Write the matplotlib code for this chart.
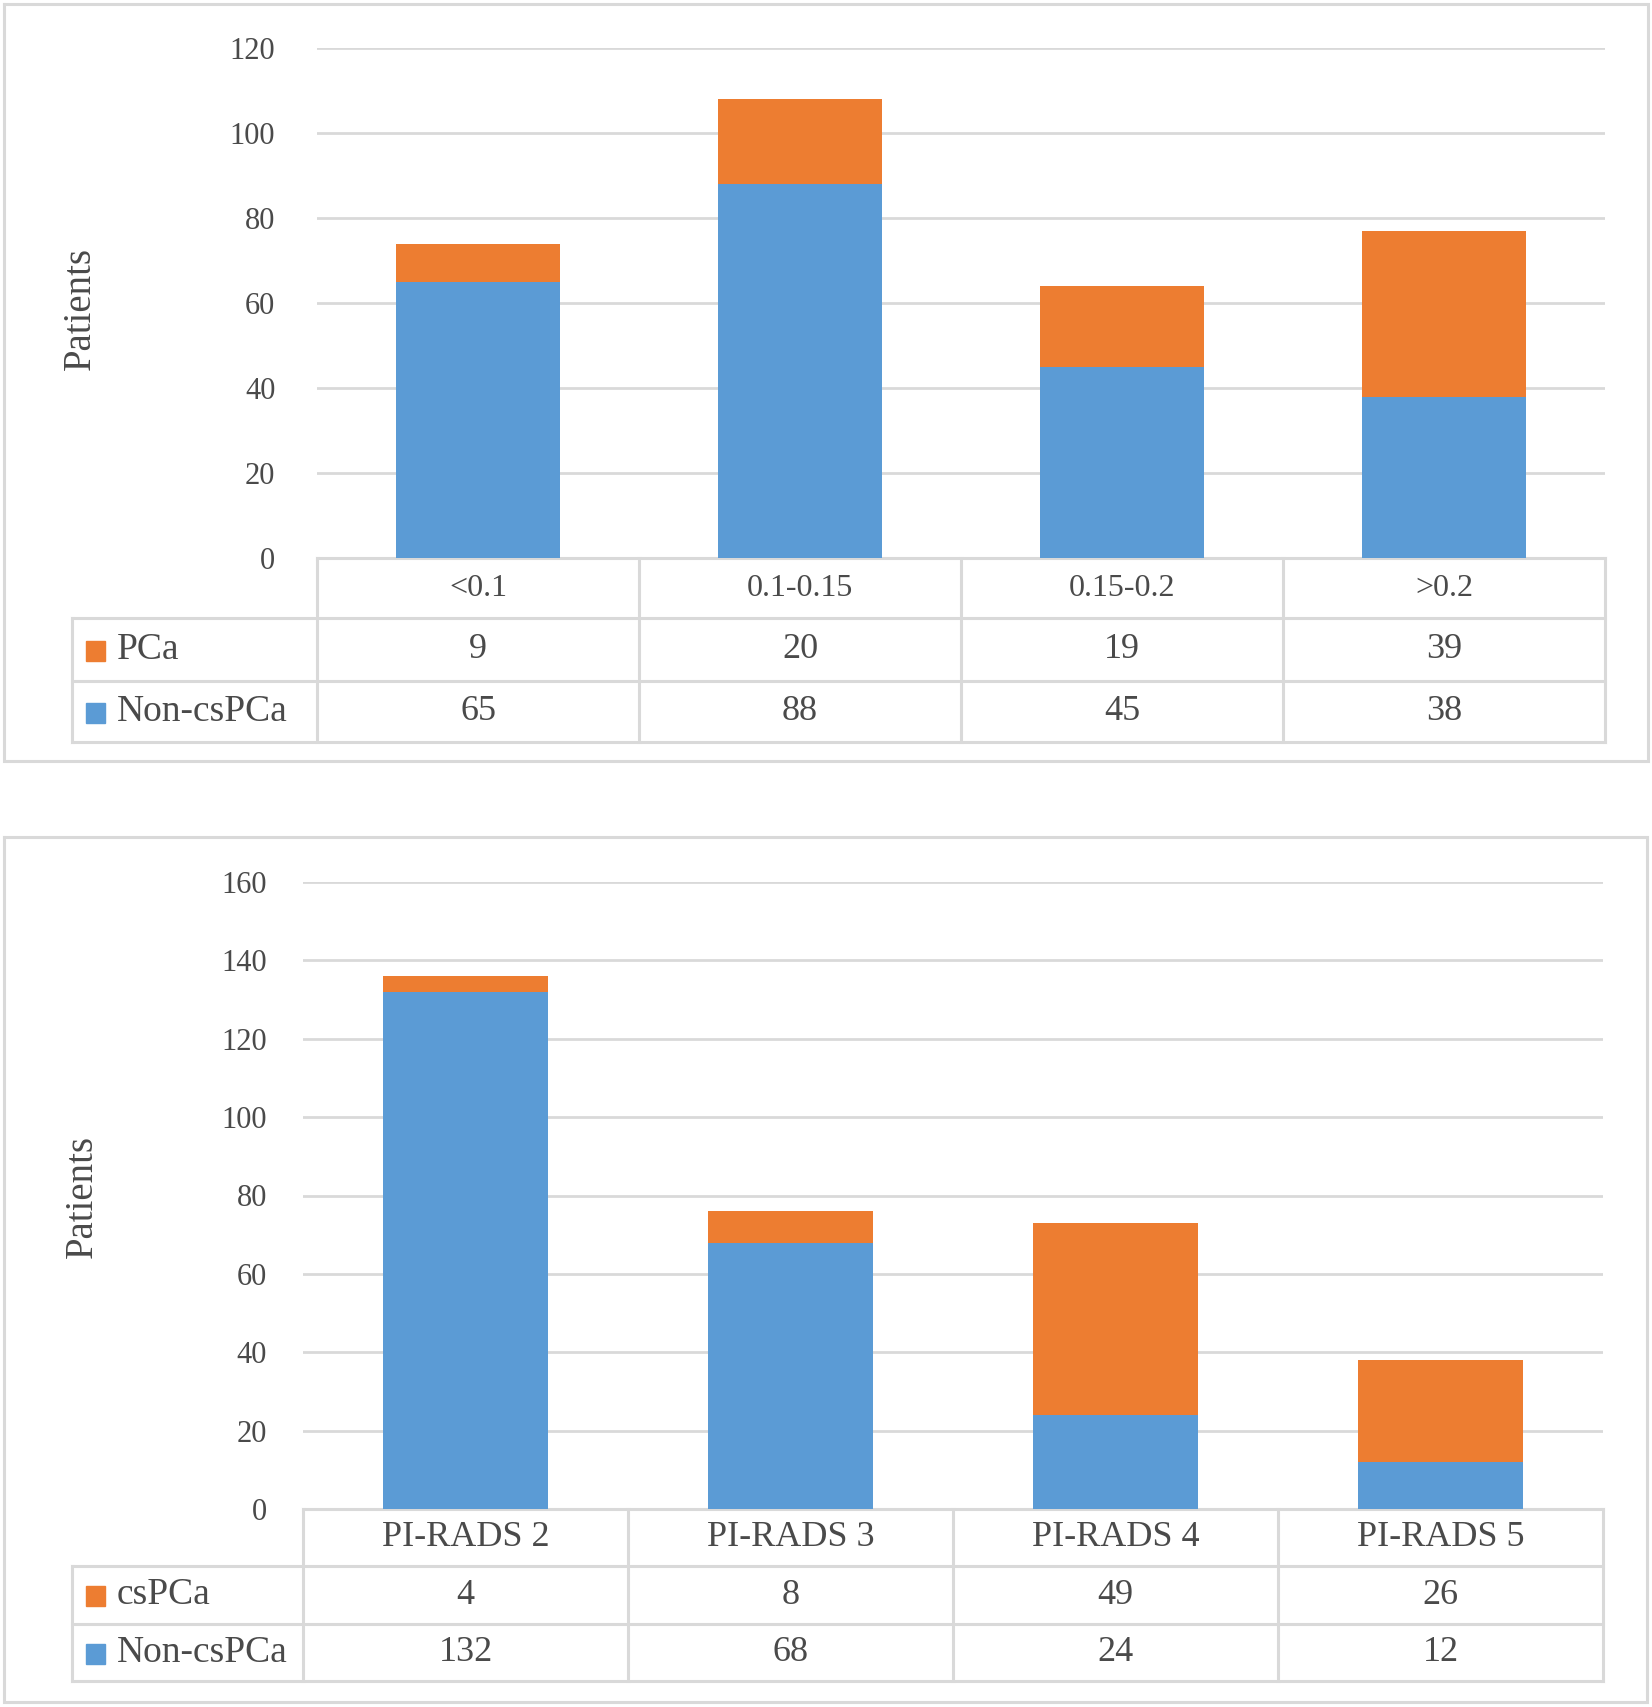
import matplotlib
matplotlib.use('Agg')
import matplotlib.pyplot as plt
import matplotlib.transforms as mtransforms
import numpy as np

# data
top_categories = ['<0.1', '0.1-0.15', '0.15-0.2', '>0.2']
top_pca = [9, 20, 19, 39]
top_non = [65, 88, 45, 38]

bottom_categories = ['PI-RADS 2', 'PI-RADS 3', 'PI-RADS 4', 'PI-RADS 5']
bottom_cspca = [4, 8, 49, 26]
bottom_non = [132, 68, 24, 12]

BLUE = '#5B9BD5'
ORANGE = '#ED7D31'
GRID = '#D9D9D9'
TEXT = '#4a4a4a'

W, H = 1652, 1707
plt.rcParams['font.family'] = ['Liberation Serif', 'DejaVu Serif']

fig = plt.figure(figsize=(W / 100, H / 100), dpi=100)

# overlay axes in pixel coordinates for borders and the data table
ov = fig.add_axes([0, 0, 1, 1], zorder=0)
ov.set_xlim(0, W)
ov.set_ylim(H, 0)
ov.axis('off')


def rect(l, t, r, b):
    return [l / W, 1 - b / H, (r - l) / W, (b - t) / H]


def panel(box, plot, ymax, ystep, rows, cats, top_vals, bot_vals, top_name,
          cat_size, tick_pad, ylabel_xy, legl=72):
    bl, bt, br, bb = box
    pl, pt, pr, pb = plot
    r0, r1, r2, r3 = rows

    # outer border
    ov.plot([bl, br, br, bl, bl], [bt, bt, bb, bb, bt], color=GRID, lw=2.2,
            solid_joinstyle='miter')

    ax = fig.add_axes(rect(pl, pt, pr, pb), zorder=2)
    ax.patch.set_alpha(0)
    x = np.arange(len(cats))
    ax.bar(x, bot_vals, width=0.51, color=BLUE, zorder=3)
    ax.bar(x, top_vals, width=0.51, bottom=bot_vals, color=ORANGE, zorder=3)
    ax.set_xlim(-0.5, len(cats) - 0.5)
    ax.set_ylim(0, ymax)
    ax.set_yticks(np.arange(0, ymax + 1, ystep))
    ax.set_xticks([])
    ax.yaxis.grid(True, color=GRID, lw=2.0, zorder=0)
    ax.set_axisbelow(True)
    for s in ax.spines.values():
        s.set_visible(False)
    ax.tick_params(axis='y', length=0, pad=tick_pad, labelsize=22,
                   labelcolor=TEXT)
    ov.text(ylabel_xy[0], ylabel_xy[1], 'Patients', rotation=90,
            ha='center', va='center', fontsize=28, color=TEXT)

    # table, x in data coords of the bar axes, y in pixels
    tr = mtransforms.blended_transform_factory(ax.transData, ov.transData)
    n = len(cats)
    edges = np.arange(n + 1) - 0.5
    ov.plot([-0.5, n - 0.5], [r0, r0], color=GRID, lw=2.2, transform=tr,
            zorder=1)
    for e in edges:
        ov.plot([e, e], [r0, r3], color=GRID, lw=2.2, transform=tr)
    for y in (r1, r2, r3):
        ov.plot([legl, pr], [y, y], color=GRID, lw=2.2)
    ov.plot([legl, legl], [r1, r3], color=GRID, lw=2.2)

    c0 = (r0 + r1) / 2
    c1 = (r1 + r2) / 2
    c2 = (r2 + r3) / 2
    for i, cat in enumerate(cats):
        ov.text(i, c0, cat, ha='center', va='center', fontsize=cat_size,
                color=TEXT, transform=tr)
        ov.text(i, c1, str(top_vals[i]), ha='center', va='center',
                fontsize=26, color=TEXT, transform=tr)
        ov.text(i, c2, str(bot_vals[i]), ha='center', va='center',
                fontsize=26, color=TEXT, transform=tr)

    for yc, name, col in ((c1, top_name, ORANGE), (c2, 'Non-csPCa', BLUE)):
        ov.add_patch(plt.Rectangle((86, yc - 9), 19, 20, color=col))
        ov.text(117, yc, name, ha='left', va='center', fontsize=27,
                color=TEXT)
    return ax


panel(box=(4, 4, 1648, 761), plot=(317, 48, 1605, 558), ymax=120, ystep=20,
      rows=(558, 618, 681, 742), cats=top_categories, top_vals=top_pca,
      bot_vals=top_non, top_name='PCa', cat_size=23, tick_pad=30,
      ylabel_xy=(80, 308))

panel(box=(4, 837, 1647, 1702), plot=(303, 882, 1603, 1509), ymax=160,
      ystep=20, rows=(1509, 1566, 1624, 1681), cats=bottom_categories,
      top_vals=bottom_cspca, bot_vals=bottom_non, top_name='csPCa',
      cat_size=26, tick_pad=26, ylabel_xy=(82, 1196))

fig.savefig('out.png', dpi=100)
